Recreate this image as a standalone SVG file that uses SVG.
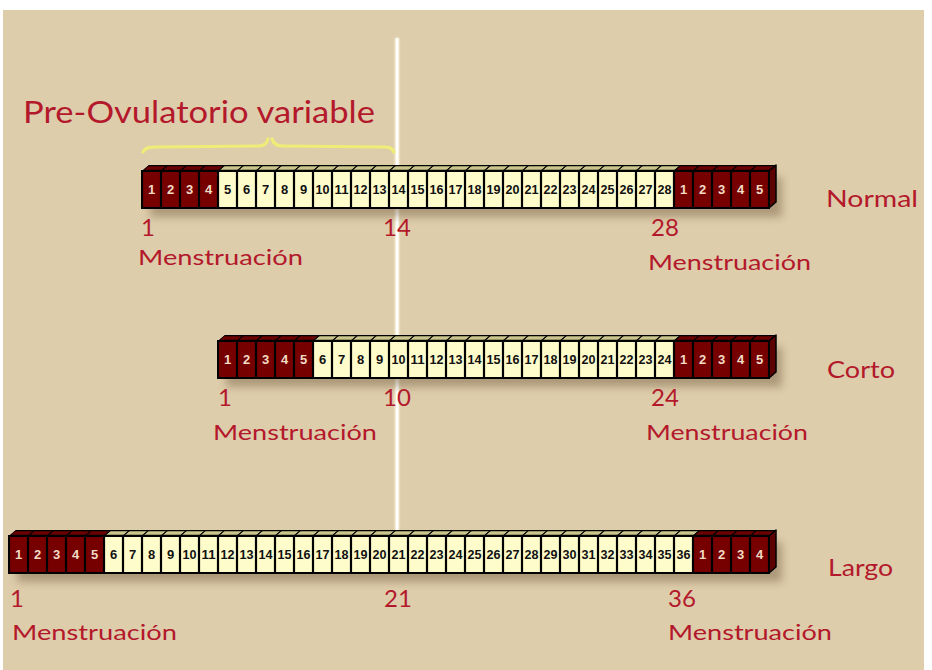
<svg xmlns="http://www.w3.org/2000/svg" width="932" height="670" viewBox="0 0 932 670">
  <defs>
    <style>
      .bg { fill: #decdab; }
      .lbl { font-family: Lato, "Liberation Sans", sans-serif; fill: #b3192b; }
      .num { font-size: 24px; }
      .men { font-size: 22px; }
      .kind { font-size: 24px; }
      .dk { fill: #760000; }
      .lt { fill: #fffccc; }
      .tdk { fill: #6a0000; }
      .tlt { fill: #c9c58c; }
      .side { fill: #5c0000; stroke: #000; stroke-width: 1.5; stroke-linejoin: round; }
      .outline { fill: none; stroke: #000; stroke-width: 2; }
      .shadow { fill: #6f5a3c; opacity: 0.45; filter: url(#soft); }
      .c { font-family: "Liberation Sans", Arial, sans-serif; font-weight: bold; font-size: 13px; text-anchor: middle; }
      .cd { fill: #f2dcc4; }
      .cl { fill: #111; }
    </style>
    <filter id="soft" x="-10%" y="-50%" width="120%" height="200%">
      <feGaussianBlur stdDeviation="4"/>
    </filter>
    <filter id="glow" x="-200%" y="-5%" width="500%" height="110%">
      <feGaussianBlur stdDeviation="0.8"/>
    </filter>
    <!-- vertical day separators on the front faces (grid pitch 19px, origin x=9) -->
    <pattern id="sep" patternUnits="userSpaceOnUse" x="9" y="0" width="19" height="10">
      <rect x="-1.1" y="0" width="2.2" height="10" fill="#000"/>
      <rect x="17.9" y="0" width="2.2" height="10" fill="#000"/>
    </pattern>
    <!-- slanted ticks on the top faces -->
    <pattern id="tick" patternUnits="userSpaceOnUse" x="9" y="0" width="19" height="10" patternTransform="skewX(-49.4)">
      <rect x="-0.9" y="0" width="1.8" height="10" fill="#000"/>
      <rect x="18.1" y="0" width="1.8" height="10" fill="#000"/>
    </pattern>
  </defs>

  <!-- page -->
  <rect x="0" y="0" width="932" height="670" fill="#ffffff"/>
  <rect class="bg" x="3" y="10" width="921" height="660"/>

  <!-- day-14 reference line -->
  <g id="marker-line">
    <rect x="395" y="38" width="4" height="492" fill="#fffbe8" filter="url(#glow)"/>
    <rect x="396" y="38" width="2.4" height="492" fill="#ffffff"/>
  </g>

  <!-- pre-ovulatory label and brace -->
  <g id="pre-ovulatorio">
    <text class="lbl" x="23" y="123" font-size="31" textLength="352" lengthAdjust="spacingAndGlyphs">Pre-Ovulatorio variable</text>
    <path d="M143,152 C146,147 150,147 158,147 L258,146 C265,146 267,143 268,139 M272,139 C273,143 276,146 283,146 L383,147 C390,147 392,148 394,152" fill="none" stroke="#f0ec78" stroke-width="3.2" stroke-linecap="round"/>
  </g>

  <!-- ===== Normal cycle: 28 days ===== -->
  <g id="ciclo-normal" transform="translate(0,171)">
    <rect class="shadow" x="150" y="6" width="632" height="40"/>
    <polygon points="142,0 149,-6 776,-6 769,0" fill="#000"/>
    <polygon class="tdk" points="143.4,-1.2 147.6,-4.8 223.6,-4.8 219.4,-1.2"/>
    <polygon class="tlt" points="219.4,-1.2 223.6,-4.8 679.6,-4.8 675.4,-1.2"/>
    <polygon class="tdk" points="675.4,-1.2 679.6,-4.8 774.6,-4.8 770.4,-1.2"/>
    <polygon points="142,0 149,-6 776,-6 769,0" fill="url(#tick)"/>
    <polygon class="side" points="769,0 776,-6 776,31 769,37"/>
    <rect class="dk" x="142" y="0" width="76" height="37"/>
    <rect class="lt" x="218" y="0" width="456" height="37"/>
    <rect class="dk" x="674" y="0" width="95" height="37"/>
    <rect x="142" y="0" width="627" height="37" fill="url(#sep)"/>
    <rect class="outline" x="142" y="0" width="627" height="37"/>
    <g class="c cd">
      <text x="151.5" y="23">1</text><text x="170.5" y="23">2</text><text x="189.5" y="23">3</text><text x="208.5" y="23">4</text>
      <text x="683.5" y="23">1</text><text x="702.5" y="23">2</text><text x="721.5" y="23">3</text><text x="740.5" y="23">4</text><text x="759.5" y="23">5</text>
    </g>
    <g class="c cl">
      <text x="227.5" y="23">5</text><text x="246.5" y="23">6</text><text x="265.5" y="23">7</text><text x="284.5" y="23">8</text><text x="303.5" y="23">9</text>
      <text x="322.5" y="23" textLength="14" lengthAdjust="spacingAndGlyphs">10</text>
      <text x="341.5" y="23" textLength="14" lengthAdjust="spacingAndGlyphs">11</text>
      <text x="360.5" y="23" textLength="14" lengthAdjust="spacingAndGlyphs">12</text>
      <text x="379.5" y="23" textLength="14" lengthAdjust="spacingAndGlyphs">13</text>
      <text x="398.5" y="23" textLength="14" lengthAdjust="spacingAndGlyphs">14</text>
      <text x="417.5" y="23" textLength="14" lengthAdjust="spacingAndGlyphs">15</text>
      <text x="436.5" y="23" textLength="14" lengthAdjust="spacingAndGlyphs">16</text>
      <text x="455.5" y="23" textLength="14" lengthAdjust="spacingAndGlyphs">17</text>
      <text x="474.5" y="23" textLength="14" lengthAdjust="spacingAndGlyphs">18</text>
      <text x="493.5" y="23" textLength="14" lengthAdjust="spacingAndGlyphs">19</text>
      <text x="512.5" y="23" textLength="14" lengthAdjust="spacingAndGlyphs">20</text>
      <text x="531.5" y="23" textLength="14" lengthAdjust="spacingAndGlyphs">21</text>
      <text x="550.5" y="23" textLength="14" lengthAdjust="spacingAndGlyphs">22</text>
      <text x="569.5" y="23" textLength="14" lengthAdjust="spacingAndGlyphs">23</text>
      <text x="588.5" y="23" textLength="14" lengthAdjust="spacingAndGlyphs">24</text>
      <text x="607.5" y="23" textLength="14" lengthAdjust="spacingAndGlyphs">25</text>
      <text x="626.5" y="23" textLength="14" lengthAdjust="spacingAndGlyphs">26</text>
      <text x="645.5" y="23" textLength="14" lengthAdjust="spacingAndGlyphs">27</text>
      <text x="664.5" y="23" textLength="14" lengthAdjust="spacingAndGlyphs">28</text>
    </g>
  </g>
  <g id="labels-normal" class="lbl">
    <text class="num" x="141" y="236">1</text>
    <text class="num" x="383" y="236">14</text>
    <text class="num" x="651" y="236">28</text>
    <text class="men" x="138" y="265" textLength="165" lengthAdjust="spacingAndGlyphs">Menstruación</text>
    <text class="men" x="648" y="270" textLength="163" lengthAdjust="spacingAndGlyphs">Menstruación</text>
    <text class="kind" x="826" y="207" textLength="92" lengthAdjust="spacingAndGlyphs">Normal</text>
  </g>

  <!-- ===== Short cycle: 24 days ===== -->
  <g id="ciclo-corto" transform="translate(0,341)">
    <rect class="shadow" x="226" y="6" width="556" height="40"/>
    <polygon points="218,0 225,-6 776,-6 769,0" fill="#000"/>
    <polygon class="tdk" points="219.4,-1.2 223.6,-4.8 318.6,-4.8 314.4,-1.2"/>
    <polygon class="tlt" points="314.4,-1.2 318.6,-4.8 679.6,-4.8 675.4,-1.2"/>
    <polygon class="tdk" points="675.4,-1.2 679.6,-4.8 774.6,-4.8 770.4,-1.2"/>
    <polygon points="218,0 225,-6 776,-6 769,0" fill="url(#tick)"/>
    <polygon class="side" points="769,0 776,-6 776,31 769,37"/>
    <rect class="dk" x="218" y="0" width="95" height="37"/>
    <rect class="lt" x="313" y="0" width="361" height="37"/>
    <rect class="dk" x="674" y="0" width="95" height="37"/>
    <rect x="218" y="0" width="551" height="37" fill="url(#sep)"/>
    <rect class="outline" x="218" y="0" width="551" height="37"/>
    <g class="c cd">
      <text x="227.5" y="23">1</text><text x="246.5" y="23">2</text><text x="265.5" y="23">3</text><text x="284.5" y="23">4</text><text x="303.5" y="23">5</text>
      <text x="683.5" y="23">1</text><text x="702.5" y="23">2</text><text x="721.5" y="23">3</text><text x="740.5" y="23">4</text><text x="759.5" y="23">5</text>
    </g>
    <g class="c cl">
      <text x="322.5" y="23">6</text><text x="341.5" y="23">7</text><text x="360.5" y="23">8</text><text x="379.5" y="23">9</text>
      <text x="398.5" y="23" textLength="14" lengthAdjust="spacingAndGlyphs">10</text>
      <text x="417.5" y="23" textLength="14" lengthAdjust="spacingAndGlyphs">11</text>
      <text x="436.5" y="23" textLength="14" lengthAdjust="spacingAndGlyphs">12</text>
      <text x="455.5" y="23" textLength="14" lengthAdjust="spacingAndGlyphs">13</text>
      <text x="474.5" y="23" textLength="14" lengthAdjust="spacingAndGlyphs">14</text>
      <text x="493.5" y="23" textLength="14" lengthAdjust="spacingAndGlyphs">15</text>
      <text x="512.5" y="23" textLength="14" lengthAdjust="spacingAndGlyphs">16</text>
      <text x="531.5" y="23" textLength="14" lengthAdjust="spacingAndGlyphs">17</text>
      <text x="550.5" y="23" textLength="14" lengthAdjust="spacingAndGlyphs">18</text>
      <text x="569.5" y="23" textLength="14" lengthAdjust="spacingAndGlyphs">19</text>
      <text x="588.5" y="23" textLength="14" lengthAdjust="spacingAndGlyphs">20</text>
      <text x="607.5" y="23" textLength="14" lengthAdjust="spacingAndGlyphs">21</text>
      <text x="626.5" y="23" textLength="14" lengthAdjust="spacingAndGlyphs">22</text>
      <text x="645.5" y="23" textLength="14" lengthAdjust="spacingAndGlyphs">23</text>
      <text x="664.5" y="23" textLength="14" lengthAdjust="spacingAndGlyphs">24</text>
    </g>
  </g>
  <g id="labels-corto" class="lbl">
    <text class="num" x="218" y="406">1</text>
    <text class="num" x="383" y="406">10</text>
    <text class="num" x="651" y="406">24</text>
    <text class="men" x="213" y="440" textLength="164" lengthAdjust="spacingAndGlyphs">Menstruación</text>
    <text class="men" x="646" y="440" textLength="162" lengthAdjust="spacingAndGlyphs">Menstruación</text>
    <text class="kind" x="827" y="378" textLength="68" lengthAdjust="spacingAndGlyphs">Corto</text>
  </g>

  <!-- ===== Long cycle: 36 days ===== -->
  <g id="ciclo-largo" transform="translate(0,536)">
    <rect class="shadow" x="17" y="6" width="765" height="40"/>
    <polygon points="9,0 16,-6 776,-6 769,0" fill="#000"/>
    <polygon class="tdk" points="10.4,-1.2 14.6,-4.8 109.6,-4.8 105.4,-1.2"/>
    <polygon class="tlt" points="105.4,-1.2 109.6,-4.8 698.6,-4.8 694.4,-1.2"/>
    <polygon class="tdk" points="694.4,-1.2 698.6,-4.8 774.6,-4.8 770.4,-1.2"/>
    <polygon points="9,0 16,-6 776,-6 769,0" fill="url(#tick)"/>
    <polygon class="side" points="769,0 776,-6 776,31 769,37"/>
    <rect class="dk" x="9" y="0" width="95" height="37"/>
    <rect class="lt" x="104" y="0" width="589" height="37"/>
    <rect class="dk" x="693" y="0" width="76" height="37"/>
    <rect x="9" y="0" width="760" height="37" fill="url(#sep)"/>
    <rect class="outline" x="9" y="0" width="760" height="37"/>
    <g class="c cd">
      <text x="18.5" y="23">1</text><text x="37.5" y="23">2</text><text x="56.5" y="23">3</text><text x="75.5" y="23">4</text><text x="94.5" y="23">5</text>
      <text x="702.5" y="23">1</text><text x="721.5" y="23">2</text><text x="740.5" y="23">3</text><text x="759.5" y="23">4</text>
    </g>
    <g class="c cl">
      <text x="113.5" y="23">6</text><text x="132.5" y="23">7</text><text x="151.5" y="23">8</text><text x="170.5" y="23">9</text>
      <text x="189.5" y="23" textLength="14" lengthAdjust="spacingAndGlyphs">10</text>
      <text x="208.5" y="23" textLength="14" lengthAdjust="spacingAndGlyphs">11</text>
      <text x="227.5" y="23" textLength="14" lengthAdjust="spacingAndGlyphs">12</text>
      <text x="246.5" y="23" textLength="14" lengthAdjust="spacingAndGlyphs">13</text>
      <text x="265.5" y="23" textLength="14" lengthAdjust="spacingAndGlyphs">14</text>
      <text x="284.5" y="23" textLength="14" lengthAdjust="spacingAndGlyphs">15</text>
      <text x="303.5" y="23" textLength="14" lengthAdjust="spacingAndGlyphs">16</text>
      <text x="322.5" y="23" textLength="14" lengthAdjust="spacingAndGlyphs">17</text>
      <text x="341.5" y="23" textLength="14" lengthAdjust="spacingAndGlyphs">18</text>
      <text x="360.5" y="23" textLength="14" lengthAdjust="spacingAndGlyphs">19</text>
      <text x="379.5" y="23" textLength="14" lengthAdjust="spacingAndGlyphs">20</text>
      <text x="398.5" y="23" textLength="14" lengthAdjust="spacingAndGlyphs">21</text>
      <text x="417.5" y="23" textLength="14" lengthAdjust="spacingAndGlyphs">22</text>
      <text x="436.5" y="23" textLength="14" lengthAdjust="spacingAndGlyphs">23</text>
      <text x="455.5" y="23" textLength="14" lengthAdjust="spacingAndGlyphs">24</text>
      <text x="474.5" y="23" textLength="14" lengthAdjust="spacingAndGlyphs">25</text>
      <text x="493.5" y="23" textLength="14" lengthAdjust="spacingAndGlyphs">26</text>
      <text x="512.5" y="23" textLength="14" lengthAdjust="spacingAndGlyphs">27</text>
      <text x="531.5" y="23" textLength="14" lengthAdjust="spacingAndGlyphs">28</text>
      <text x="550.5" y="23" textLength="14" lengthAdjust="spacingAndGlyphs">29</text>
      <text x="569.5" y="23" textLength="14" lengthAdjust="spacingAndGlyphs">30</text>
      <text x="588.5" y="23" textLength="14" lengthAdjust="spacingAndGlyphs">31</text>
      <text x="607.5" y="23" textLength="14" lengthAdjust="spacingAndGlyphs">32</text>
      <text x="626.5" y="23" textLength="14" lengthAdjust="spacingAndGlyphs">33</text>
      <text x="645.5" y="23" textLength="14" lengthAdjust="spacingAndGlyphs">34</text>
      <text x="664.5" y="23" textLength="14" lengthAdjust="spacingAndGlyphs">35</text>
      <text x="683.5" y="23" textLength="14" lengthAdjust="spacingAndGlyphs">36</text>
    </g>
  </g>
  <g id="labels-largo" class="lbl">
    <text class="num" x="10" y="607">1</text>
    <text class="num" x="384" y="607">21</text>
    <text class="num" x="668" y="607">36</text>
    <text class="men" x="12" y="640" textLength="165" lengthAdjust="spacingAndGlyphs">Menstruación</text>
    <text class="men" x="668" y="640" textLength="164" lengthAdjust="spacingAndGlyphs">Menstruación</text>
    <text class="kind" x="828" y="576" textLength="65" lengthAdjust="spacingAndGlyphs">Largo</text>
  </g>
</svg>
